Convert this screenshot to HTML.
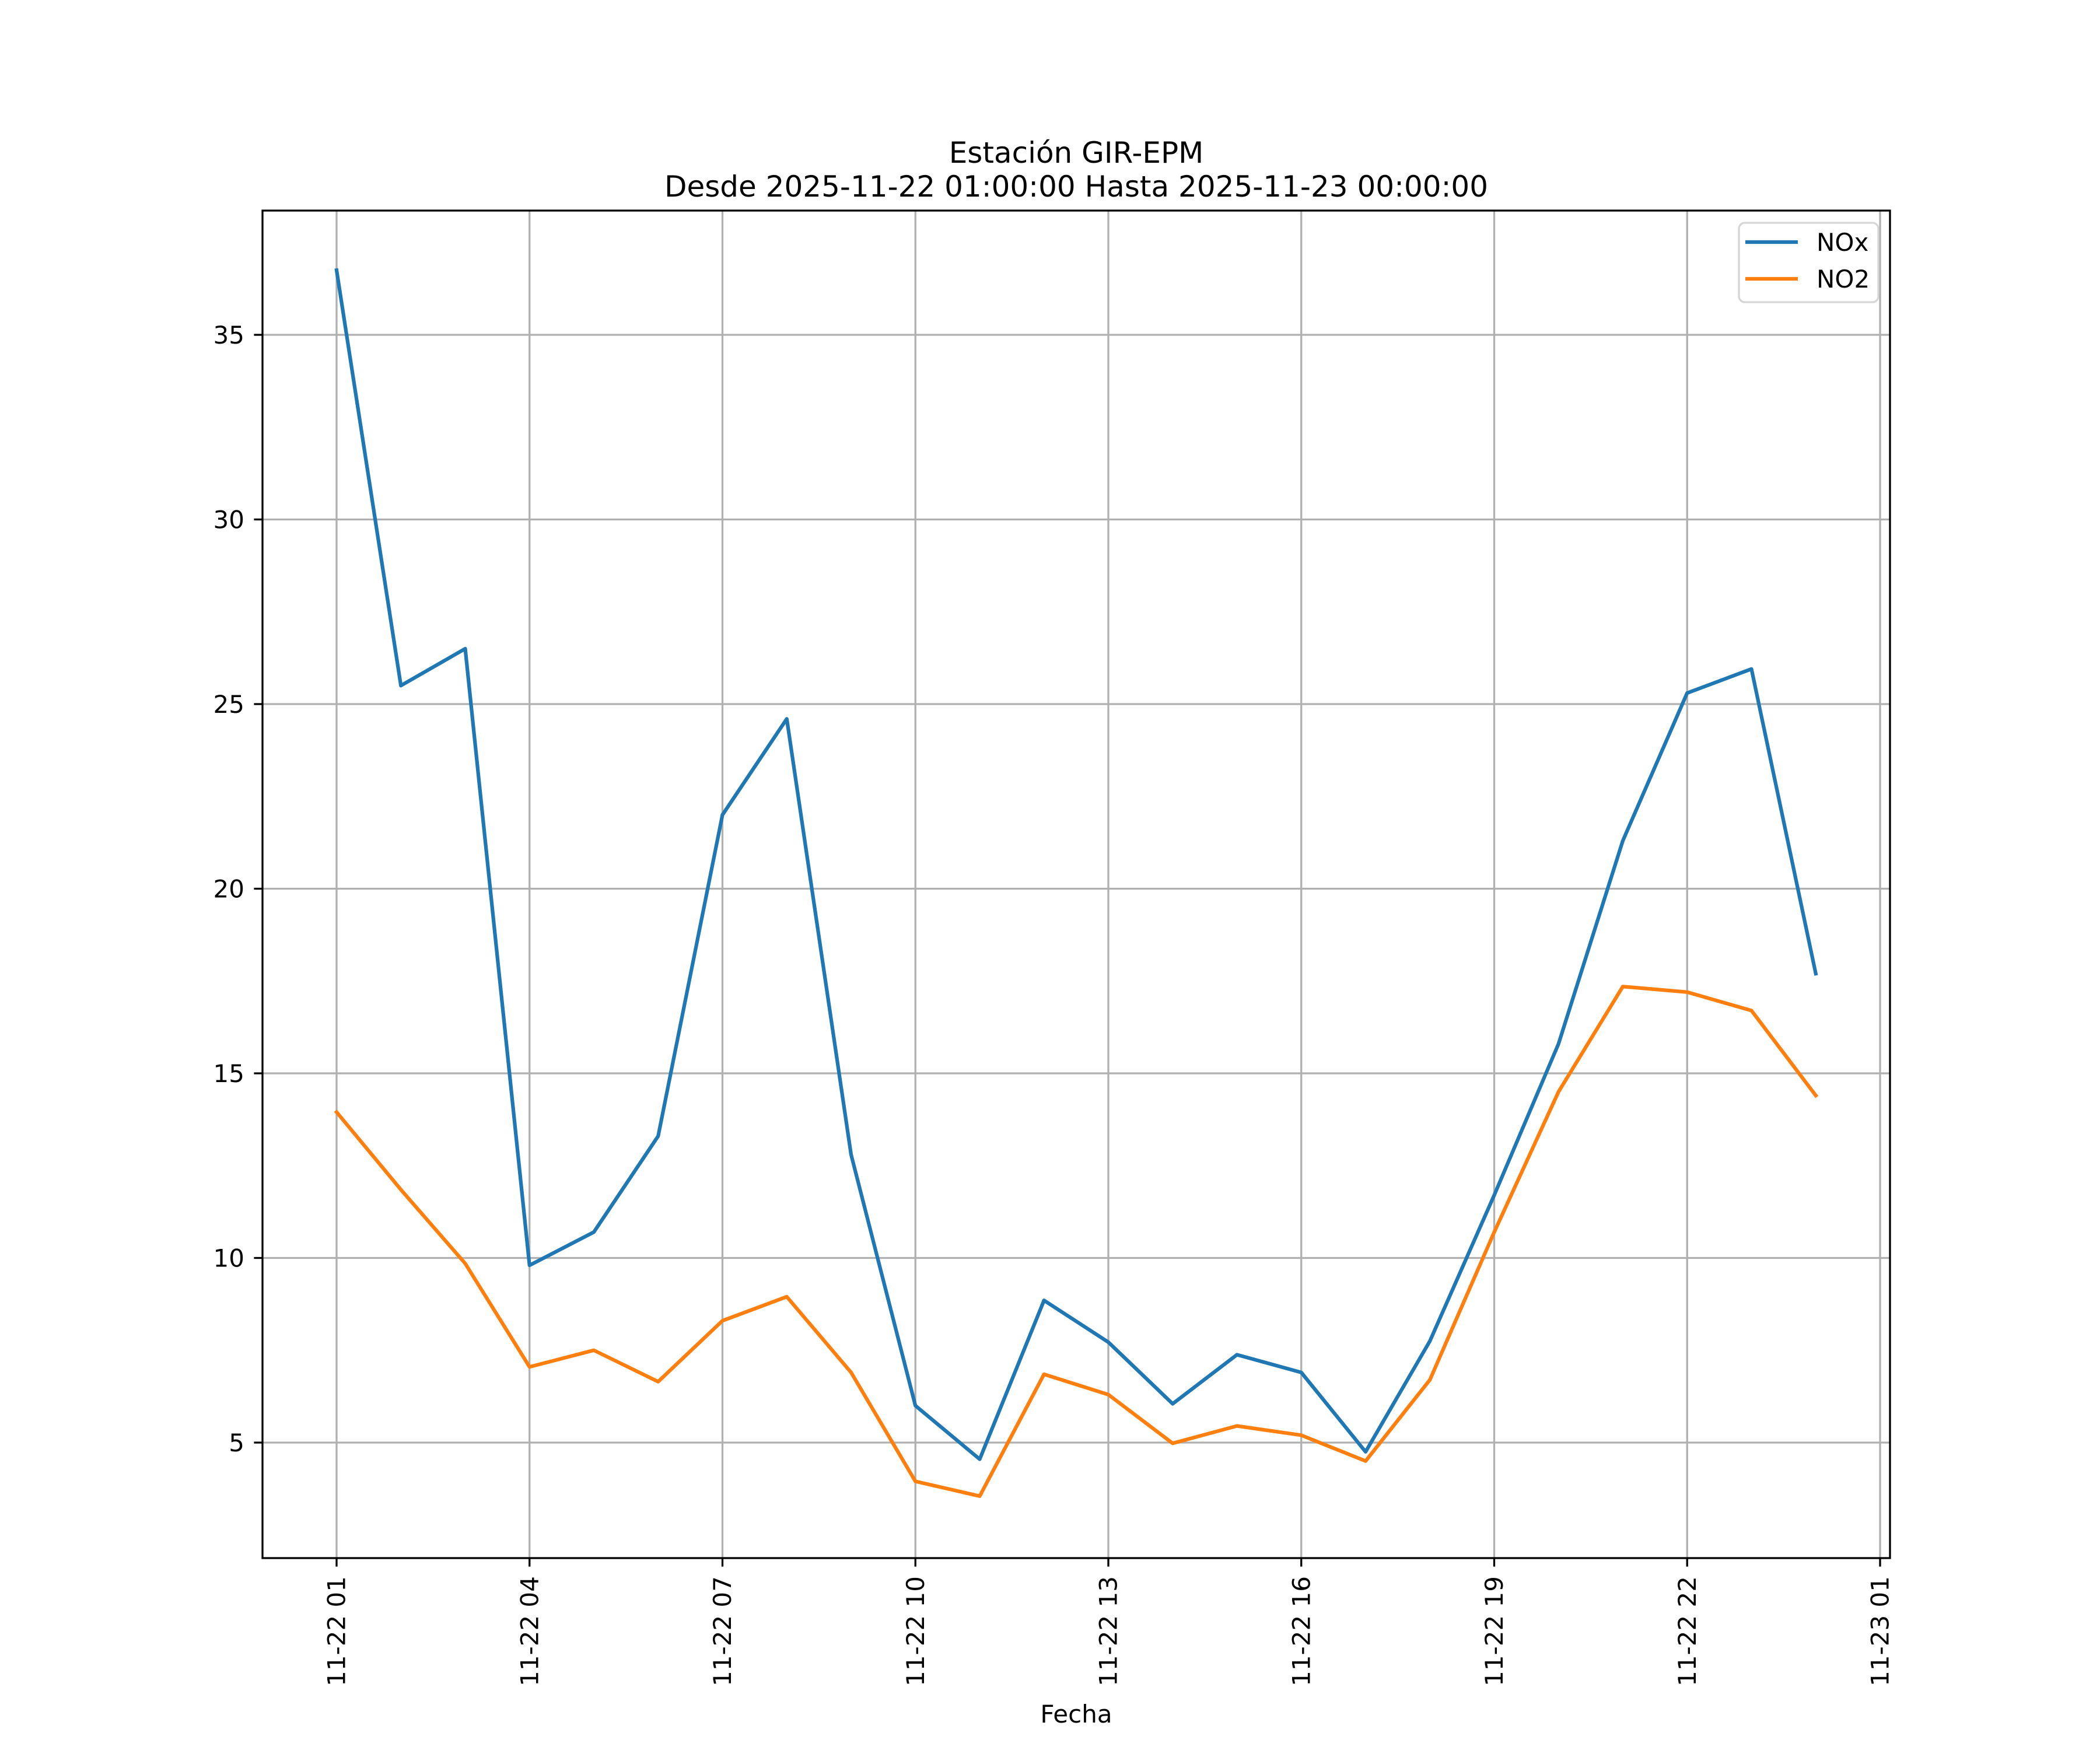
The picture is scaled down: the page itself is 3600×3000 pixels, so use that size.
<!DOCTYPE html>
<html><head><meta charset="utf-8"><style>html,body{margin:0;padding:0;background:#fff}svg{display:block}text{font-family:"DejaVu Sans","Liberation Sans",sans-serif;fill:#000}</style></head>
<body>
<svg id="chart" width="3600" height="3000" viewBox="0 0 3600 3000" xmlns="http://www.w3.org/2000/svg">
<rect x="0" y="0" width="3600" height="3000" fill="#fff"/>
<text x="1845" y="279" font-size="50" text-anchor="middle">Estación GIR-EPM</text>
<text x="1845" y="337" font-size="50" text-anchor="middle">Desde 2025-11-22 01:00:00 Hasta 2025-11-23 00:00:00</text>
<g id="grid"></g>
<g id="series"></g>
<g id="axes"></g>
<text x="1845" y="2953" font-size="42" text-anchor="middle">Fecha</text>
<g id="legend">
<rect x="2981" y="382" width="239" height="136" rx="10" fill="#fff" fill-opacity="0.8" stroke="#d6d6d6" stroke-width="3.3"/>
<line x1="2992" y1="415" x2="3082" y2="415" stroke="#1f77b4" stroke-width="6.25"/>
<text x="3114" y="430" font-size="42">NOx</text>
<line x1="2992" y1="478" x2="3082" y2="478" stroke="#ff7f0e" stroke-width="6.25"/>
<text x="3114" y="493" font-size="42">NO2</text>
</g>
</svg>
<script>
const hours = [1,2,3,4,5,6,7,8,9,10,11,12,13,14,15,16,17,18,19,20,21,22,23,24];
const noxValues = [36.75,25.5,26.5,9.8,10.7,13.3,22.0,24.6,12.8,6.0,4.55,8.85,7.72,6.05,7.38,6.9,4.75,7.75,11.7,15.8,21.3,25.3,25.95,17.7];
const no2Values = [13.95,11.85,9.85,7.05,7.5,6.65,8.3,8.95,6.9,3.95,3.55,6.85,6.3,4.98,5.45,5.2,4.5,6.7,10.7,14.5,17.35,17.2,16.7,14.4];
const xTickHours = [1,4,7,10,13,16,19,22,25];
const xTickLabels = ["11-22 01","11-22 04","11-22 07","11-22 10","11-22 13","11-22 16","11-22 19","11-22 22","11-23 01"];
const yTicks = [5,10,15,20,25,30,35];

const L=450,R=3240,T=361,B=2671;
function xs(h){return 577+(h-1)*(3223-577)/24;}
function ys(v){return 2473-(v-5)*(2473-574)/30;}
const NS="http://www.w3.org/2000/svg";
function mk(tag,attrs,parent){const e=document.createElementNS(NS,tag);for(const k in attrs)e.setAttribute(k,attrs[k]);parent.appendChild(e);return e;}
const grid=document.getElementById('grid'),axes=document.getElementById('axes'),series=document.getElementById('series');

xTickHours.forEach((h,i)=>{
  const x=xs(h);
  const g=mk('line',{x1:x,y1:T,x2:x,y2:B,stroke:'#b0b0b0','stroke-width':3.3},grid);
  
  
  const t=mk('line',{x1:x,y1:B,x2:x,y2:B+14.6,stroke:'#000','stroke-width':3.3},axes);
  
  
  const lb=mk('text',{x:0,y:0,'font-size':42,'text-anchor':'end','dominant-baseline':'central',transform:`translate(${x},${B+31}) rotate(-90)`},axes);
  lb.textContent=xTickLabels[i];
  
  
});
yTicks.forEach(v=>{
  const y=ys(v);
  const g=mk('line',{x1:L,y1:y,x2:R,y2:y,stroke:'#b0b0b0','stroke-width':3.3},grid);
  
  
  const t=mk('line',{x1:L-14.6,y1:y,x2:L,y2:y,stroke:'#000','stroke-width':3.3},axes);
  
  
  const lb=mk('text',{x:L-31,y:y+15,'font-size':42,'text-anchor':'end'},axes);
  lb.textContent=String(v);
  
  
});
const frame=mk('rect',{x:L,y:T,width:R-L,height:B-T,fill:'none',stroke:'#000','stroke-width':3.3},axes);



function pts(vals){return vals.map((v,i)=>xs(hours[i])+','+ys(v)).join(' ');}
const nox=mk('polyline',{points:pts(noxValues),fill:'none',stroke:'#1f77b4','stroke-width':6.25,'stroke-linejoin':'round','stroke-linecap':'square'},series);


const no2=mk('polyline',{points:pts(no2Values),fill:'none',stroke:'#ff7f0e','stroke-width':6.25,'stroke-linejoin':'round','stroke-linecap':'square'},series);


</script>
</body></html>
